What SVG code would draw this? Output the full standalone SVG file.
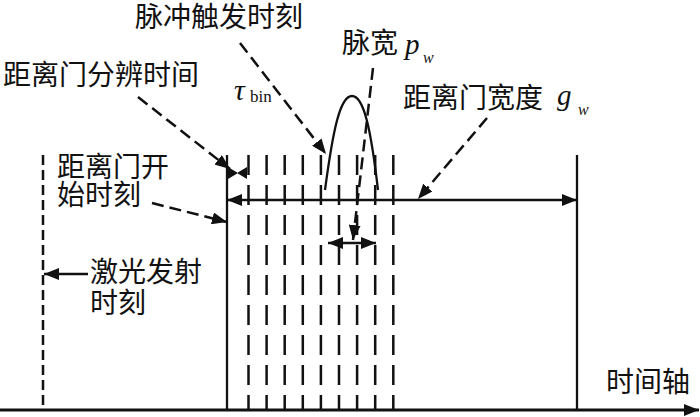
<svg xmlns="http://www.w3.org/2000/svg" width="700" height="417" viewBox="0 0 700 417">
<style>
.cjk{font-family:"Liberation Serif","Noto Sans CJK SC",serif;font-size:28px;fill:#111}
.it{font-family:"Liberation Serif",serif;font-style:italic;fill:#111}
.rm{font-family:"Liberation Serif",serif;fill:#111}
.solid{stroke:#111;stroke-width:2.3;fill:none}
.bin{stroke:#111;stroke-width:2.5;stroke-dasharray:20 10;fill:none}
.laser{stroke:#111;stroke-width:2.5;stroke-dasharray:10 5;fill:none}
.lead{stroke:#111;stroke-width:2.5;stroke-dasharray:12 6;fill:none}
</style>
<defs>
<marker id="ah" markerUnits="userSpaceOnUse" markerWidth="16" markerHeight="12" refX="15" refY="6" orient="auto-start-reverse">
<path d="M0,0 L15,6 L0,12 z" fill="#111"/>
</marker>
</defs>
<rect width="700" height="417" fill="#fff"/>
<g id="axis">
<line x1="0" y1="410" x2="699" y2="410" stroke="#111" stroke-width="2.8" marker-end="url(#ah)"/>
<text class="cjk" x="606" y="392">时间轴</text>
</g>
<g id="laser">
<line class="laser" x1="43" y1="155" x2="43" y2="408"/>
<text class="cjk" x="90" y="282">激光发射</text>
<text class="cjk" x="90" y="313">时刻</text>
</g>
<g id="gate">
<line class="solid" x1="227" y1="155" x2="227" y2="410"/>
<line class="solid" x1="577" y1="155" x2="577" y2="410"/>
<text class="cjk" x="57" y="177">距离门开</text>
<text class="cjk" x="57" y="205">始时刻</text>
</g>
<g id="bins">
<line class="bin" x1="248.5" y1="155" x2="248.5" y2="410"/>
<line class="bin" x1="266.6" y1="155" x2="266.6" y2="410"/>
<line class="bin" x1="284.7" y1="155" x2="284.7" y2="410"/>
<line class="bin" x1="302.8" y1="155" x2="302.8" y2="410"/>
<line class="bin" x1="320.9" y1="155" x2="320.9" y2="410"/>
<line class="bin" x1="339" y1="155" x2="339" y2="410"/>
<line class="bin" x1="357.1" y1="155" x2="357.1" y2="410"/>
<line class="bin" x1="375.2" y1="155" x2="375.2" y2="410"/>
<line class="bin" x1="393.3" y1="155" x2="393.3" y2="410"/>
</g>
<g id="pulse">
<path class="solid" d="M325,190 C333,130 340,96 352,96 C364,96 371,130 378,190"/>
</g>
<g id="label-trigger">
<text class="cjk" x="135" y="27" font-size="27">脉冲触发时刻</text>
</g>
<g id="label-resolution">
<text class="cjk" x="3" y="85">距离门分辨时间</text>
<text class="it" x="234" y="100" font-size="30">τ</text>
<text class="rm" x="250" y="102" font-size="17">bin</text>
</g>
<g id="label-pulsewidth">
<text class="cjk" x="342" y="53" font-size="27">脉宽</text>
<text class="it" x="405" y="54" font-size="29">p</text>
<text class="it" x="423" y="63" font-size="16">w</text>
</g>
<g id="label-gatewidth">
<text class="cjk" x="403" y="108" font-size="29">距离门宽度</text>
<text class="it" x="557" y="105" font-size="29">g</text>
<text class="it" x="578" y="115" font-size="16">w</text>
</g>
<g id="connectors">
<line class="lead" x1="240" y1="43" x2="326" y2="154" marker-end="url(#ah)"/>
<line class="lead" x1="138" y1="97" x2="230" y2="169" marker-end="url(#ah)"/>
<line class="lead" x1="152" y1="203" x2="227" y2="222" marker-end="url(#ah)"/>
<line class="lead" x1="373" y1="68" x2="353" y2="240" marker-end="url(#ah)"/>
<line class="lead" x1="487" y1="118" x2="418" y2="199" marker-end="url(#ah)"/>
<line class="solid" x1="88" y1="274" x2="44" y2="274" marker-end="url(#ah)"/>
<line class="solid" x1="227" y1="200" x2="577" y2="200" marker-start="url(#ah)" marker-end="url(#ah)"/>
<line class="solid" x1="328" y1="243" x2="376" y2="243" marker-start="url(#ah)" marker-end="url(#ah)"/>
<path d="M228,167 L238,173 L228,179 z M247,167 L237,173 L247,179 z" fill="#111"/>
</g>
</svg>
